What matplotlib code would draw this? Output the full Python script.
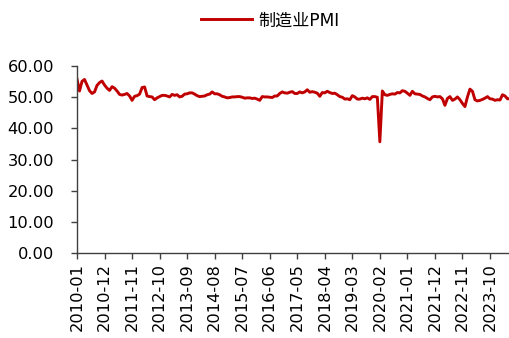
import pandas as pd
import matplotlib
matplotlib.use("Agg")
import matplotlib.pyplot as plt

plt.rcParams["font.family"] = ["DejaVu Sans", "Noto Sans CJK SC"]

# 官方制造业PMI, 2010-01 起的月度数据
pmi_2010 = [55.8, 52.0, 55.1, 55.7, 53.9, 52.1, 51.2, 51.7, 53.8, 54.7, 55.2, 53.9]
pmi_2011 = [52.9, 52.2, 53.4, 52.9, 52.0, 50.9, 50.7, 50.9, 51.2, 50.4, 49.0, 50.3]
pmi_2012 = [50.5, 51.0, 53.1, 53.3, 50.4, 50.2, 50.1, 49.2, 49.8, 50.2, 50.6, 50.6]
pmi_2013 = [50.4, 50.1, 50.9, 50.6, 50.8, 50.1, 50.3, 51.0, 51.1, 51.4, 51.4, 51.0]
pmi_2014 = [50.5, 50.2, 50.3, 50.4, 50.8, 51.0, 51.7, 51.1, 51.1, 50.8, 50.3, 50.1]
pmi_2015 = [49.8, 49.9, 50.1, 50.1, 50.2, 50.2, 50.0, 49.7, 49.8, 49.8, 49.6, 49.7]
pmi_2016 = [49.4, 49.0, 50.2, 50.1, 50.1, 50.0, 49.9, 50.4, 50.4, 51.2, 51.7, 51.4]
pmi_2017 = [51.3, 51.6, 51.8, 51.2, 51.2, 51.7, 51.4, 51.7, 52.4, 51.6, 51.8, 51.6]
pmi_2018 = [51.3, 50.3, 51.5, 51.4, 51.9, 51.5, 51.2, 51.3, 50.8, 50.2, 50.0, 49.4]
pmi_2019 = [49.5, 49.2, 50.5, 50.1, 49.4, 49.4, 49.7, 49.5, 49.8, 49.3, 50.2, 50.2]
pmi_2020 = [50.0, 35.7, 52.0, 50.8, 50.6, 50.9, 51.1, 51.0, 51.5, 51.4, 52.1, 51.9]
pmi_2021 = [51.3, 50.6, 51.9, 51.1, 51.0, 50.9, 50.4, 50.1, 49.6, 49.2, 50.1, 50.3]
pmi_2022 = [50.1, 50.2, 49.5, 47.4, 49.6, 50.2, 49.0, 49.4, 50.1, 49.2, 48.0, 47.0]
pmi_2023 = [50.1, 52.6, 51.9, 49.2, 48.8, 49.0, 49.3, 49.7, 50.2, 49.5, 49.4, 49.0]
pmi_2024 = [49.2, 49.1, 50.8, 50.4, 49.5, 49.5]

pmi = (pmi_2010 + pmi_2011 + pmi_2012 + pmi_2013 + pmi_2014 + pmi_2015 + pmi_2016
       + pmi_2017 + pmi_2018 + pmi_2019 + pmi_2020 + pmi_2021 + pmi_2022 + pmi_2023
       + pmi_2024)
months = pd.period_range("2010-01", periods=len(pmi), freq="M").strftime("%Y-%m").tolist()

y_ticks = [0, 10, 20, 30, 40, 50, 60]
tick_step = 11

fig = plt.figure(figsize=(5.10, 3.38), dpi=100)
ax = fig.add_axes([0.151, 0.2515, 0.849, 0.553])

x = list(range(len(pmi)))
ax.plot(x, pmi, color="#C00000", lw=2.1, label="制造业PMI")

ax.set_xlim(0, len(pmi) - 1)
ax.set_ylim(0, 60)
ax.set_yticks(y_ticks)
ax.set_yticklabels([f"{v:.2f}" for v in y_ticks], fontsize=11.7)
ax.set_xticks(x[::tick_step])
ax.set_xticklabels(months[::tick_step], rotation=90, fontsize=11.7)

for side in ("top", "right"):
    ax.spines[side].set_visible(False)
for side in ("left", "bottom"):
    ax.spines[side].set_color("#404040")
    ax.spines[side].set_linewidth(1.0)
ax.tick_params(axis="both", direction="out", length=4, width=1.0, color="#404040",
               labelcolor="black")
ax.tick_params(axis="y", pad=12.5)
ax.tick_params(axis="x", pad=3.5)

fig.legend(loc="upper center", bbox_to_anchor=(0.53, 1.012), frameon=False, fontsize=12.3,
           handlelength=3.0, handletextpad=0.4)

fig.savefig("out.png", dpi=100)
